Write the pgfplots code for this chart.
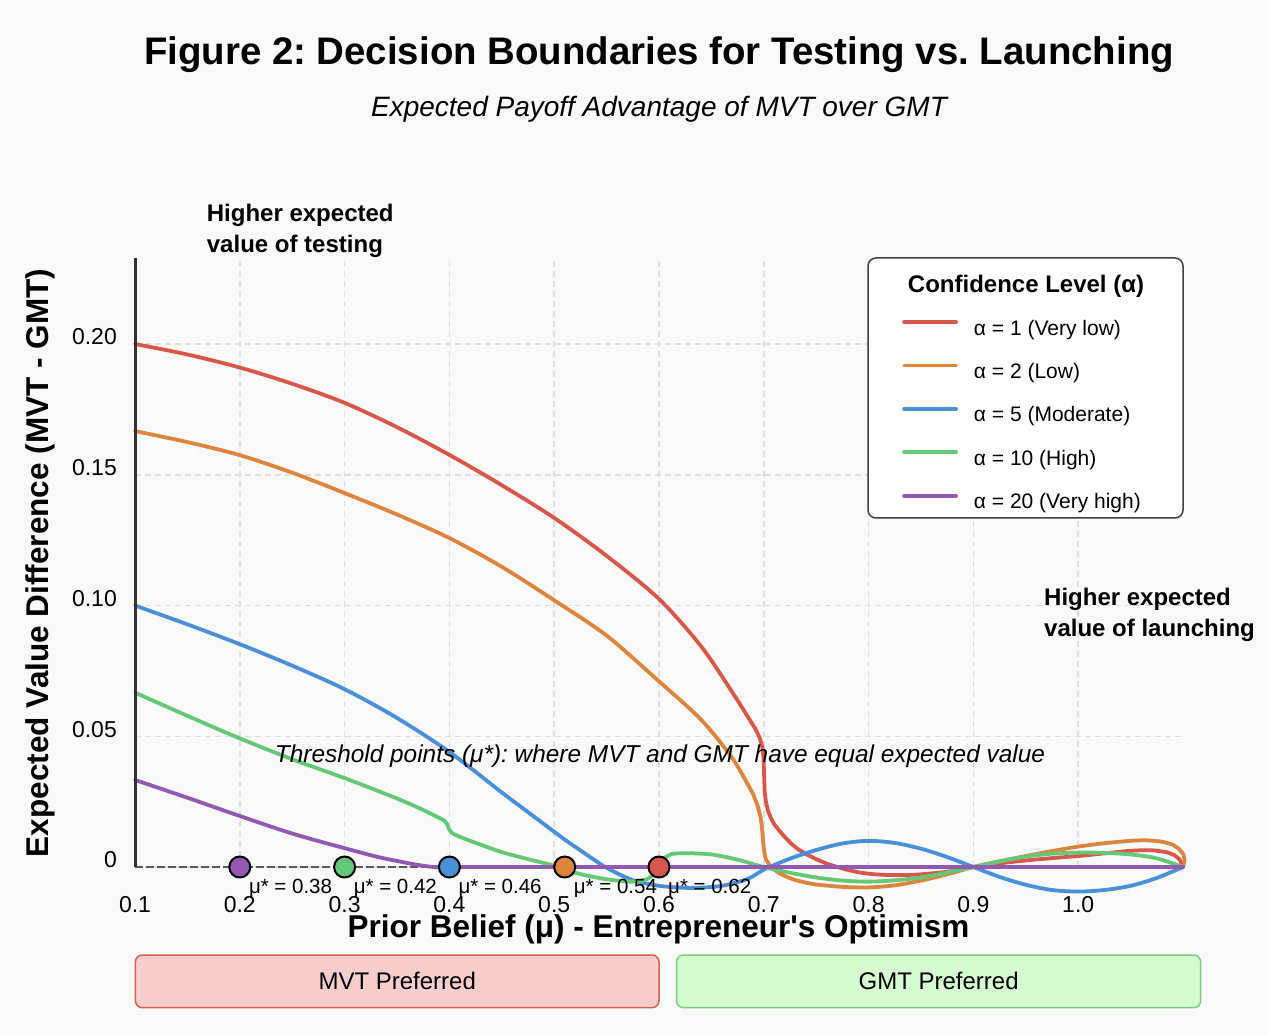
\documentclass[border=0pt]{standalone}
\usepackage{pgfplots}
\pgfplotsset{compat=1.18}
\usepackage{fontspec}
\setmainfont{Liberation Sans}
\frenchspacing
\definecolor{bgcol}{HTML}{F9F9F9}
\definecolor{cRed}{HTML}{D9574A}
\definecolor{cOrange}{HTML}{DD853D}
\definecolor{cBlue}{HTML}{4A90D9}
\definecolor{cGreen}{HTML}{65C876}
\definecolor{cPurple}{HTML}{9159B2}
\definecolor{spine}{HTML}{333333}
\definecolor{gridc}{HTML}{DEDEDE}
\definecolor{zeroc}{HTML}{5A5A5A}
\definecolor{boxRedFill}{HTML}{F8CECD}
\definecolor{boxRedLine}{HTML}{D9604E}
\definecolor{boxGreenFill}{HTML}{D5FCD0}
\definecolor{boxGreenLine}{HTML}{7DCD7D}

% alpha = 1
\pgfplotstableread{
x y
0.10 0.2000
0.15 0.1960
0.20 0.1910
0.25 0.1848
0.30 0.1775
0.35 0.1682
0.40 0.1576
0.45 0.1460
0.50 0.1335
0.55 0.1190
0.60 0.1025
0.64 0.0845
0.67 0.0668
0.687 0.0560
}\redA
\pgfplotstableread{
x y
0.687 0.0560
0.692 0.0528
0.696 0.0495
0.6985 0.0462
0.6997 0.0420
0.7003 0.0350
0.7008 0.0290
0.702 0.0250
0.704 0.0215
0.707 0.0185
0.710 0.0163
0.715 0.0138
0.72 0.0115
0.726 0.0090
0.732 0.0070
0.74 0.0050
0.75 0.0030
0.76 0.0013
0.77 0.0000
}\redB
\pgfplotstableread{
x y
0.77 0.0000
0.79 -0.0020
0.81 -0.0029
0.83 -0.0031
0.85 -0.0028
0.875 -0.0018
0.90 0.0000
0.925 0.0014
0.95 0.0025
0.975 0.0034
1.00 0.0042
1.025 0.0052
1.05 0.0062
1.07 0.0064
1.085 0.0056
}\redC
\pgfplotstableread{
x y
1.085 0.0056
1.092 0.0045
1.097 0.0028
1.10 0.0000
}\redD

% alpha = 2
\pgfplotstableread{
x y
0.10 0.1667
0.15 0.1625
0.20 0.1575
0.25 0.1508
0.30 0.1430
0.35 0.1348
0.40 0.1258
0.45 0.1148
0.50 0.1020
0.55 0.0885
0.60 0.0710
0.64 0.0564
0.67 0.0416
0.69 0.0277
}\orangeA
\pgfplotstableread{
x y
0.69 0.0277
0.694 0.0235
0.697 0.0190
0.6985 0.0140
0.6995 0.0090
0.7005 0.0055
0.702 0.0030
0.705 0.0010
0.709 -0.0007
0.715 -0.0024
0.722 -0.0038
0.73 -0.0050
0.74 -0.0060
0.75 -0.0067
}\orangeB
\pgfplotstableread{
x y
0.75 -0.0067
0.775 -0.0076
0.80 -0.0078
0.825 -0.0070
0.85 -0.0052
0.875 -0.0028
0.90 0.0000
0.925 0.0022
0.95 0.0042
0.975 0.0061
1.00 0.0078
1.025 0.0091
1.05 0.0100
1.065 0.0102
1.08 0.0097
}\orangeC
\pgfplotstableread{
x y
1.08 0.0097
1.09 0.0086
1.096 0.0070
1.1005 0.0048
1.1015 0.0025
1.10 0.0000
}\orangeD

% alpha = 5
\pgfplotstableread{
x y
0.10 0.1000
0.15 0.0928
0.20 0.0852
0.25 0.0770
0.30 0.0680
0.35 0.0570
0.40 0.0440
0.45 0.0285
0.48 0.0195
0.51 0.0105
0.53 0.0050
0.55 -0.0003
0.575 -0.0050
0.60 -0.0072
0.63 -0.0080
0.66 -0.0072
0.685 -0.0045
0.70 -0.0010
0.725 0.0032
0.75 0.0065
0.775 0.0090
0.80 0.0100
0.825 0.0092
0.85 0.0070
0.875 0.0038
0.90 0.0000
0.925 -0.0038
0.95 -0.0068
0.975 -0.0088
1.00 -0.0094
1.025 -0.0088
1.05 -0.0072
1.075 -0.0042
1.10 0.0000
}\blueT

% alpha = 10
\pgfplotstableread{
x y
0.10 0.0667
0.15 0.0578
0.20 0.0492
0.25 0.0412
0.30 0.0340
0.35 0.0262
0.375 0.0218
0.395 0.0178
}\greenA
\pgfplotstableread{
x y
0.395 0.0178
0.398 0.0162
0.400 0.0142
0.403 0.0128
0.41 0.0115
}\greenB
\pgfplotstableread{
x y
0.41 0.0115
0.43 0.0085
0.45 0.0057
0.475 0.0030
0.50 0.0005
0.522 -0.0024
0.544 -0.0043
0.56 -0.0052
0.575 -0.0056
0.588 -0.0048
}\greenC
\pgfplotstableread{
x y
0.588 -0.0048
0.595 -0.0030
0.60 0.0000
0.605 0.0035
0.612 0.0050
}\greenD
\pgfplotstableread{
x y
0.612 0.0050
0.625 0.0053
0.65 0.0048
0.675 0.0028
0.70 0.0000
0.725 -0.0022
0.75 -0.0040
0.775 -0.0052
0.80 -0.0056
0.825 -0.0051
0.85 -0.0040
0.875 -0.0021
0.90 0.0000
0.925 0.0021
0.95 0.0040
0.975 0.0051
1.00 0.0055
1.025 0.0054
1.05 0.0048
1.075 0.0033
1.10 0.0000
}\greenE

% alpha = 20
\pgfplotstableread{
x y
0.10 0.0333
0.15 0.0265
0.20 0.0195
0.25 0.0128
0.30 0.0072
0.33 0.0040
0.35 0.0023
0.37 0.0008
0.385 0.0000
0.40 0.0000
}\purpleA
\pgfplotstableread{
x y
0.40 0.0000
1.10 0.0000
}\purpleB

\begin{document}
\begin{tikzpicture}
\fill[bgcol] (0pt,0pt) rectangle (1268pt,1034pt);
\useasboundingbox (0pt,0pt) rectangle (1268pt,1034pt);
\begin{axis}[
  at={(135pt,167pt)}, anchor=south west,
  width=1048pt, height=609pt, scale only axis,
  xmin=0.1, xmax=1.1, ymin=0, ymax=0.2329,
  clip=false,
  axis line style={draw=none},
  major tick length=0pt,
  xtick={0.1,0.2,0.3,0.4,0.5,0.6,0.7,0.8,0.9,1.0},
  xticklabels={0.1,0.2,0.3,0.4,0.5,0.6,0.7,0.8,0.9,1.0},
  ytick={0,0.05,0.1,0.15,0.2},
  yticklabels={0,0.05,0.10,0.15,0.20},
  xticklabel style={font=\fontsize{23}{23}\selectfont, inner sep=0pt, anchor=center, yshift=-38pt},
  yticklabel style={font=\fontsize{23}{23}\selectfont, inner sep=0pt, anchor=east, xshift=-18pt, yshift=7pt},
  xmajorgrids, ymajorgrids,
  major grid style={draw=gridc, line width=1.5pt, dash pattern=on 6pt off 4pt},
  every axis plot/.append style={line cap=round, line join=round},
  legend style={at={(1,1)}, anchor=north east, xshift=-7pt, yshift=-60pt, fill=none, draw=none,
    inner xsep=35pt, inner ysep=0pt, row sep=21.5pt,
    font=\fontsize{21}{25}\selectfont,
    nodes={inner sep=0pt, text height=15pt, text depth=5pt},
    /tikz/every odd column/.append style={column sep=16pt}},
  legend cell align=left,
  legend image code/.code={\path (0pt,0pt) (52pt,10pt); \draw[#1] (0pt,8pt) -- (52pt,8pt);},
]
\addplot[forget plot, color=zeroc, line width=2.5pt, dash pattern=on 8pt off 3pt, line cap=butt] coordinates {(0.1,0) (1.1,0)};
% alpha = 1
\addplot[color=cRed, line width=3.8pt, smooth, tension=0.5] table[x=x,y=y] {\redA};
\addlegendentry{α = 1 (Very low)}
\addplot[forget plot, color=cRed, line width=3.8pt] table[x=x,y=y] {\redB};
\addplot[forget plot, color=cRed, line width=3.8pt, smooth, tension=0.5] table[x=x,y=y] {\redC};
\addplot[forget plot, color=cRed, line width=3.8pt] table[x=x,y=y] {\redD};
% alpha = 2
\addplot[color=cOrange, line width=3.8pt, smooth, tension=0.5] table[x=x,y=y] {\orangeA};
\addlegendentry{α = 2 (Low)}
\addplot[forget plot, color=cOrange, line width=3.8pt] table[x=x,y=y] {\orangeB};
\addplot[forget plot, color=cOrange, line width=3.8pt, smooth, tension=0.5] table[x=x,y=y] {\orangeC};
\addplot[forget plot, color=cOrange, line width=3.8pt] table[x=x,y=y] {\orangeD};
% alpha = 5
\addplot[color=cBlue, line width=3.8pt, smooth, tension=0.5] table[x=x,y=y] {\blueT};
\addlegendentry{α = 5 (Moderate)}
% alpha = 10
\addplot[color=cGreen, line width=3.8pt, smooth, tension=0.5] table[x=x,y=y] {\greenA};
\addlegendentry{α = 10 (High)}
\addplot[forget plot, color=cGreen, line width=3.8pt] table[x=x,y=y] {\greenB};
\addplot[forget plot, color=cGreen, line width=3.8pt, smooth, tension=0.5] table[x=x,y=y] {\greenC};
\addplot[forget plot, color=cGreen, line width=3.8pt] table[x=x,y=y] {\greenD};
\addplot[forget plot, color=cGreen, line width=3.8pt, smooth, tension=0.5] table[x=x,y=y] {\greenE};
% alpha = 20
\addplot[color=cPurple, line width=3.8pt, smooth, tension=0.5] table[x=x,y=y] {\purpleA};
\addlegendentry{α = 20 (Very high)}
\addplot[forget plot, color=cPurple, line width=3.8pt] table[x=x,y=y] {\purpleB};
\draw[color=spine, line width=3pt] (rel axis cs:0,0) -- (rel axis cs:0,1);
% legend frame and title
\draw[fill=white, draw=black!75, line width=1.5pt, rounded corners=8pt]
  ([xshift=-315pt]rel axis cs:1,1) rectangle ([yshift=-260pt]rel axis cs:1,1);
\node[anchor=base, inner sep=0pt, font=\fontsize{24}{25}\selectfont\bfseries]
  at ([xshift=-157pt,yshift=-34.6pt]rel axis cs:1,1) {Confidence Level (α)};
% threshold markers
\addplot[forget plot, only marks, mark=*, mark size=10.5pt, mark options={fill=cPurple, draw=black, line width=2pt}] coordinates {(0.2,0)};
\addplot[forget plot, only marks, mark=*, mark size=10.5pt, mark options={fill=cGreen, draw=black, line width=2pt}] coordinates {(0.3,0)};
\addplot[forget plot, only marks, mark=*, mark size=10.5pt, mark options={fill=cBlue, draw=black, line width=2pt}] coordinates {(0.4,0)};
\addplot[forget plot, only marks, mark=*, mark size=10.5pt, mark options={fill=cOrange, draw=black, line width=2pt}] coordinates {(0.51,0)};
\addplot[forget plot, only marks, mark=*, mark size=10.5pt, mark options={fill=cRed, draw=black, line width=2pt}] coordinates {(0.6,0)};
\begin{scope}[every node/.style={anchor=west, inner sep=0pt, font=\fontsize{20.5}{21}\selectfont}]
\node at ([xshift=9pt,yshift=-21pt]axis cs:0.2,0) {μ* = 0.38};
\node at ([xshift=9pt,yshift=-21pt]axis cs:0.3,0) {μ* = 0.42};
\node at ([xshift=9pt,yshift=-21pt]axis cs:0.4,0) {μ* = 0.46};
\node at ([xshift=9pt,yshift=-21pt]axis cs:0.51,0) {μ* = 0.54};
\node at ([xshift=9pt,yshift=-21pt]axis cs:0.6,0) {μ* = 0.62};
\end{scope}
\end{axis}
% titles and labels
\node[anchor=base, font=\fontsize{38.4}{46}\selectfont\bfseries] at (659pt,969pt) {Figure 2: Decision Boundaries for Testing vs. Launching};
\node[anchor=base, font=\fontsize{28}{34}\selectfont\itshape] at (659pt,917pt) {Expected Payoff Advantage of MVT over GMT};
\node[anchor=base, font=\fontsize{31.5}{37}\selectfont\bfseries] at (658.5pt,97pt) {Prior Belief (μ) - Entrepreneur\textquotesingle s Optimism};
\node[anchor=base, rotate=90, font=\fontsize{31.5}{37}\selectfont\bfseries] at (48.3pt,471pt) {Expected Value Difference (MVT - GMT)};
\node[anchor=base west, inner sep=0pt, align=left, font=\fontsize{24}{31.5}\selectfont\bfseries] at (206.7pt,781pt) {Higher expected\\value of testing};
\node[anchor=base west, inner sep=0pt, align=left, font=\fontsize{24}{31.5}\selectfont\bfseries] at (1044pt,397.3pt) {Higher expected\\value of launching};
\node[anchor=base, inner sep=0pt, font=\fontsize{24.4}{28}\selectfont\itshape] at (660pt,272pt) {Threshold points (μ*): where MVT and GMT have equal expected value};
% preference boxes
\draw[fill=boxRedFill, draw=boxRedLine, line width=1.5pt, rounded corners=7pt] (135.4pt,26.3pt) rectangle (659pt,79pt);
\node[font=\fontsize{24}{28}\selectfont] at (397.2pt,52.6pt) {MVT Preferred};
\draw[fill=boxGreenFill, draw=boxGreenLine, line width=1.5pt, rounded corners=7pt] (676.5pt,26.3pt) rectangle (1200.7pt,79pt);
\node[font=\fontsize{24}{28}\selectfont] at (938.6pt,52.6pt) {GMT Preferred};
\end{tikzpicture}
\end{document}
